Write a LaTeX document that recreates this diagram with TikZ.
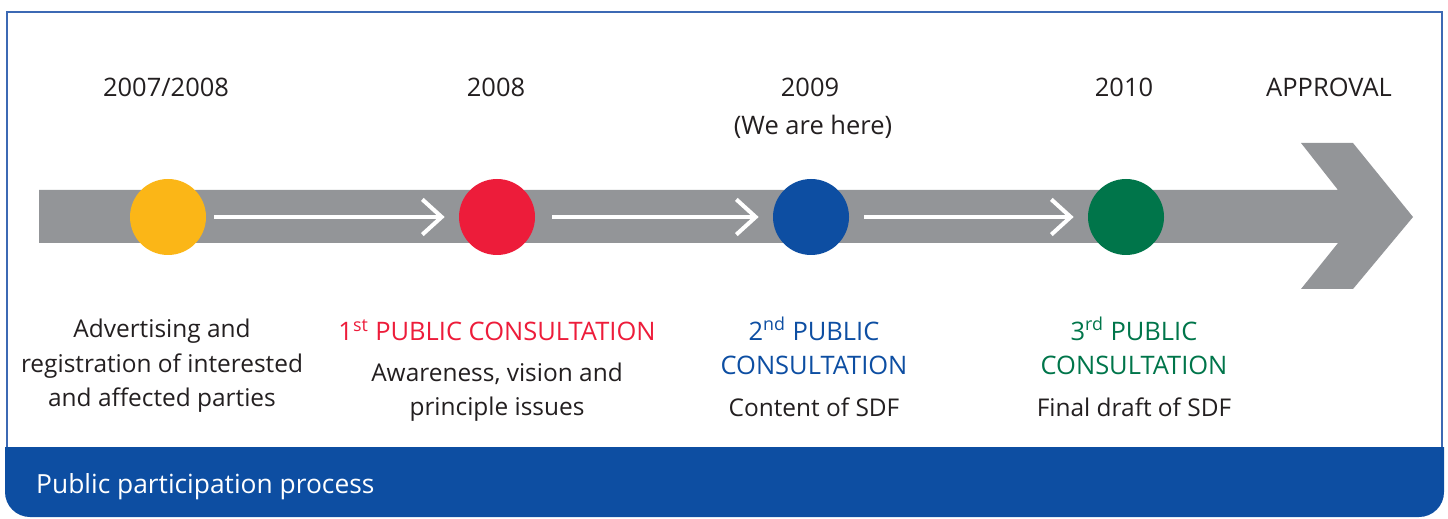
\documentclass[tikz,border=0pt]{standalone}
\usepackage{fontspec}
\setmainfont{Open Sans}
\usetikzlibrary{arrows.meta}
\definecolor{bargray}{RGB}{147,149,152}
\definecolor{dotyellow}{RGB}{251,182,23}
\definecolor{dotred}{RGB}{237,28,58}
\definecolor{dotblue}{RGB}{13,78,162}
\definecolor{dotgreen}{RGB}{0,117,74}
\definecolor{textgray}{RGB}{35,31,32}
\definecolor{frameblue}{RGB}{60,105,180}

\tikzset{
  dot/.style={circle, minimum size=1.52cm, inner sep=0pt},
  year/.style={font=\fontsize{14.5}{18}\selectfont, text=textgray},
  desc/.style={font=\fontsize{13.9}{19.6}\selectfont, text=textgray, align=center},
  phase/.style={font=\fontsize{14.5}{19.6}\selectfont, align=center},
  flow/.style={white, line width=2.3pt, shorten >=0.28cm,
    -{Straight Barb[length=11pt,width=20pt]}}
}

\begin{document}
\begin{tikzpicture}
        \useasboundingbox (0,0) rectangle (28.96,10.36);
        % frame and footer band
        \draw[frameblue, line width=0.8pt] (0.14,1.42) -- (0.14,10.12) -- (28.84,10.12) -- (28.84,1.42);
        \fill[dotblue] (0.1,1.42) {[rounded corners=0.5cm] -- (0.1,0.02) -- (28.88,0.02)} -- (28.88,1.42) -- cycle;
        \node[anchor=west, white, font=\fontsize{15}{18}\selectfont] (band) at (0.6,0.62) {Public participation process};
        % big arrow
        \fill[bargray] (0.78,6.56) -- (26.76,6.56) -- (26.02,7.5) -- (27.06,7.5) -- (28.26,6.02)
            -- (27.06,4.58) -- (26.02,4.58) -- (26.76,5.5) -- (0.78,5.5) -- cycle;
        % milestones
        \node[dot, fill=dotyellow] (y1) at (3.36,6.02) {};
        \node[dot, fill=dotred] (r1) at (9.94,6.02) {};
        \node[dot, fill=dotblue] (b1) at (16.22,6.02) {};
        \node[dot, fill=dotgreen] (g1) at (22.52,6.02) {};
        \draw[flow, shorten <=0.16cm] (y1) -- (r1);
        \draw[flow, shorten <=0.34cm] (r1) -- (b1);
        \draw[flow, shorten <=0.3cm] (b1) -- (g1);
        % years
        \node[year] (yr1) at (3.32,8.62) {2007/2008};
        \node[year] (yr2) at (9.92,8.62) {2008};
        \node[year] (yr3) at (16.2,8.62) {2009};
        \node[year] (here) at (16.26,7.82) {(We are here)};
        \node[year] (yr4) at (22.48,8.62) {2010};
        \node[year] (appr) at (26.58,8.62) {APPROVAL};
        % descriptions
        \node[desc] (info1) at (3.24,3.04) {Advertising and\\registration of interested\\and affected parties};
        \node[phase, text=dotred] (title2) at (9.94,3.76) {1\textsuperscript{st} PUBLIC CONSULTATION};
        \node[desc] (info2) at (9.94,2.52) {Awareness, vision and\\principle issues};
        \node[phase, text=dotblue] (title3) at (16.28,3.44) {2\textsuperscript{nd} PUBLIC\\CONSULTATION};
        \node[desc] (info3) at (16.28,2.22) {Content of SDF};
        \node[phase, text=dotgreen] (title4) at (22.68,3.44) {3\textsuperscript{rd} PUBLIC\\CONSULTATION};
        \node[desc] (info4) at (22.68,2.22) {Final draft of SDF};
\end{tikzpicture}
\end{document}
